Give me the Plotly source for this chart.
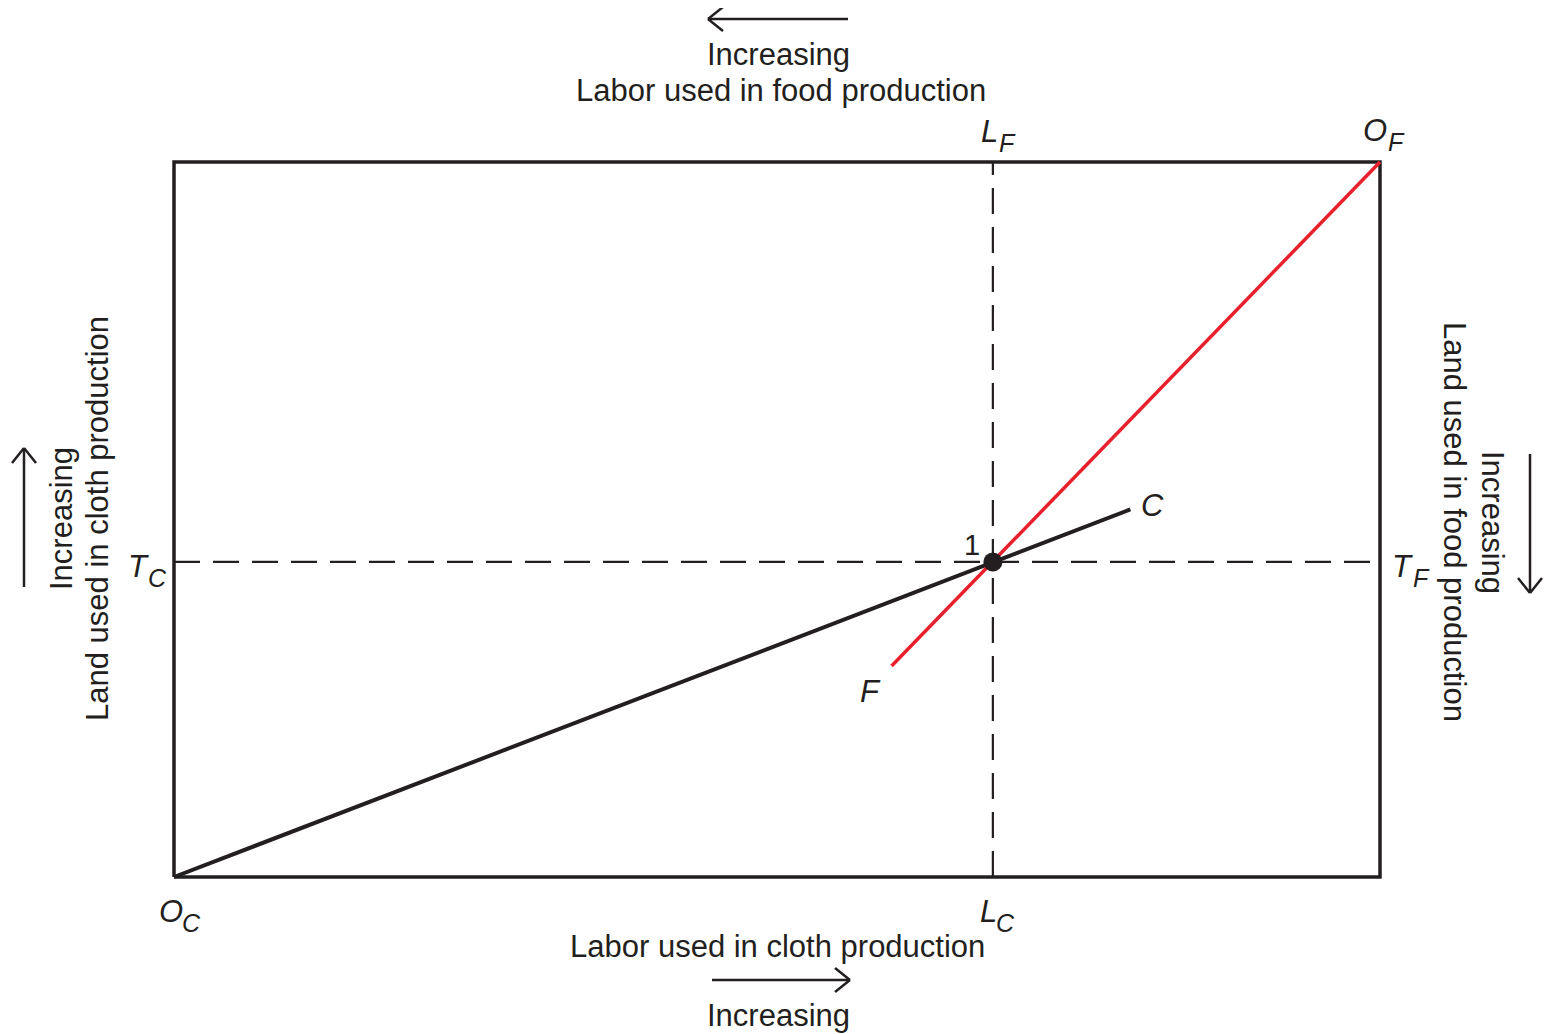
import math
import plotly.graph_objects as go

# ---- data (box units 0..100) ----
box_x = [0, 100, 100, 0, 0]
box_y = [0, 0, 100, 100, 0]
point1 = (67.9, 44.06)           # equilibrium point 1 (L_C, T_C)
c_line_x = [0, 79.3]             # cloth expansion path O_C -> C
c_line_y = [0, 51.4]
f_line_x = [59.5, 100]           # food expansion path F -> O_F
f_line_y = [29.5, 100]

# ---- layout geometry (screen pixels; page body has an 8px margin) ----
OFF = 8
W, H = 1556 - OFF, 1034 - OFF
BOX_L, BOX_R, BOX_T, BOX_B = 174 - OFF, 1380 - OFF, 162 - OFF, 877 - OFF
PAD = 25
ML, MR = BOX_L - PAD, W - BOX_R - PAD
MT, MB = BOX_T - PAD, H - BOX_B - PAD
PW, PH = W - ML - MR, H - MT - MB
sx = (BOX_R - BOX_L) / 100.0
sy = (BOX_B - BOX_T) / 100.0
xr = [-PAD / sx, 100 + PAD / sx]
yr = [-PAD / sy, 100 + PAD / sy]

def px(x):
    return (x - OFF - ML) / PW

def py(y):
    return (MT + PH - (y - OFF)) / PH

FONT = "Liberation Sans, Arial, Helvetica, sans-serif"
INK = "#231f20"
RED = "#e8202c"

fig = go.Figure()

dash = "26px,13px"
fig.add_trace(go.Scatter(x=[point1[0], point1[0]], y=[0, 100], mode="lines",
                         line=dict(color=INK, width=2.2, dash=dash), hoverinfo="skip"))
fig.add_trace(go.Scatter(x=[0, 100], y=[point1[1], point1[1]], mode="lines",
                         line=dict(color=INK, width=2.2, dash=dash), hoverinfo="skip"))
fig.add_trace(go.Scatter(x=box_x, y=box_y, mode="lines",
                         line=dict(color=INK, width=3.5), hoverinfo="skip"))
fig.add_trace(go.Scatter(x=c_line_x, y=c_line_y, mode="lines",
                         line=dict(color=INK, width=4), hoverinfo="skip"))
fig.add_trace(go.Scatter(x=f_line_x, y=f_line_y, mode="lines",
                         line=dict(color=RED, width=3.5), hoverinfo="skip"))
fig.add_trace(go.Scatter(x=[point1[0]], y=[point1[1]], mode="markers",
                         marker=dict(color=INK, size=19), cliponaxis=False, hoverinfo="skip"))

ann = []

def text(t, x, y, size=31, angle=0, italic=False):
    if italic:
        t = "<i>" + t + "</i>"
    ann.append(dict(text=t, x=px(x), y=py(y), xref="paper", yref="paper",
                    showarrow=False, xanchor="center", yanchor="middle",
                    textangle=angle, font=dict(family=FONT, size=size, color=INK)))

def label(main, sub, x, y, dx=17, dy=12):
    text(main, x, y, size=31, italic=True)
    text(sub, x + dx, y + dy, size=25, italic=True)

shapes = []

def seg(x0, y0, x1, y1, w=2.5):
    shapes.append(dict(type="line", xref="paper", yref="paper",
                       x0=px(x0), y0=py(y0), x1=px(x1), y1=py(y1),
                       line=dict(color=INK, width=w)))

def arrow(hx, hy, tx, ty, L=15, Wd=12):
    seg(tx, ty, hx, hy)
    dx, dy = tx - hx, ty - hy
    n = math.hypot(dx, dy)
    ux, uy = dx / n, dy / n
    vx, vy = -uy, ux
    seg(hx, hy, hx + ux * L + vx * Wd, hy + uy * L + vy * Wd)
    seg(hx, hy, hx + ux * L - vx * Wd, hy + uy * L - vy * Wd)

# top
arrow(708, 19, 848, 19)
text("Increasing", 778, 55)
text("Labor used in food production", 781, 90)
# bottom
text("Labor used in cloth production", 777, 946)
arrow(850, 980, 712, 980)
text("Increasing", 778, 1016)
# left
arrow(24, 448, 24, 587)
text("Increasing", 61, 519, angle=-90)
text("Land used in cloth production", 97, 519, angle=-90)
# right
arrow(1530, 593, 1530, 454)
text("Increasing", 1493, 522, angle=90)
text("Land used in food production", 1455, 522, angle=90)

# point labels
label("L", "F", 989, 131, dx=18)
label("O", "F", 1375, 130, dx=21)
label("T", "C", 138, 566, dx=19)
label("T", "F", 1402, 566, dx=19)
label("O", "C", 171, 911, dx=20)
label("L", "C", 988, 911, dx=17)
text("1", 972, 545, size=29)
text("C", 1152, 506, size=31, italic=True)
text("F", 870, 691, size=31, italic=True)

fig.update_layout(
    width=W, height=H,
    margin=dict(l=ML, r=MR, t=MT, b=MB, pad=0),
    paper_bgcolor="white", plot_bgcolor="white",
    showlegend=False,
    xaxis=dict(range=xr, visible=False, fixedrange=True),
    yaxis=dict(range=yr, visible=False, fixedrange=True),
    annotations=ann, shapes=shapes,
)

fig.write_html("out.html")
